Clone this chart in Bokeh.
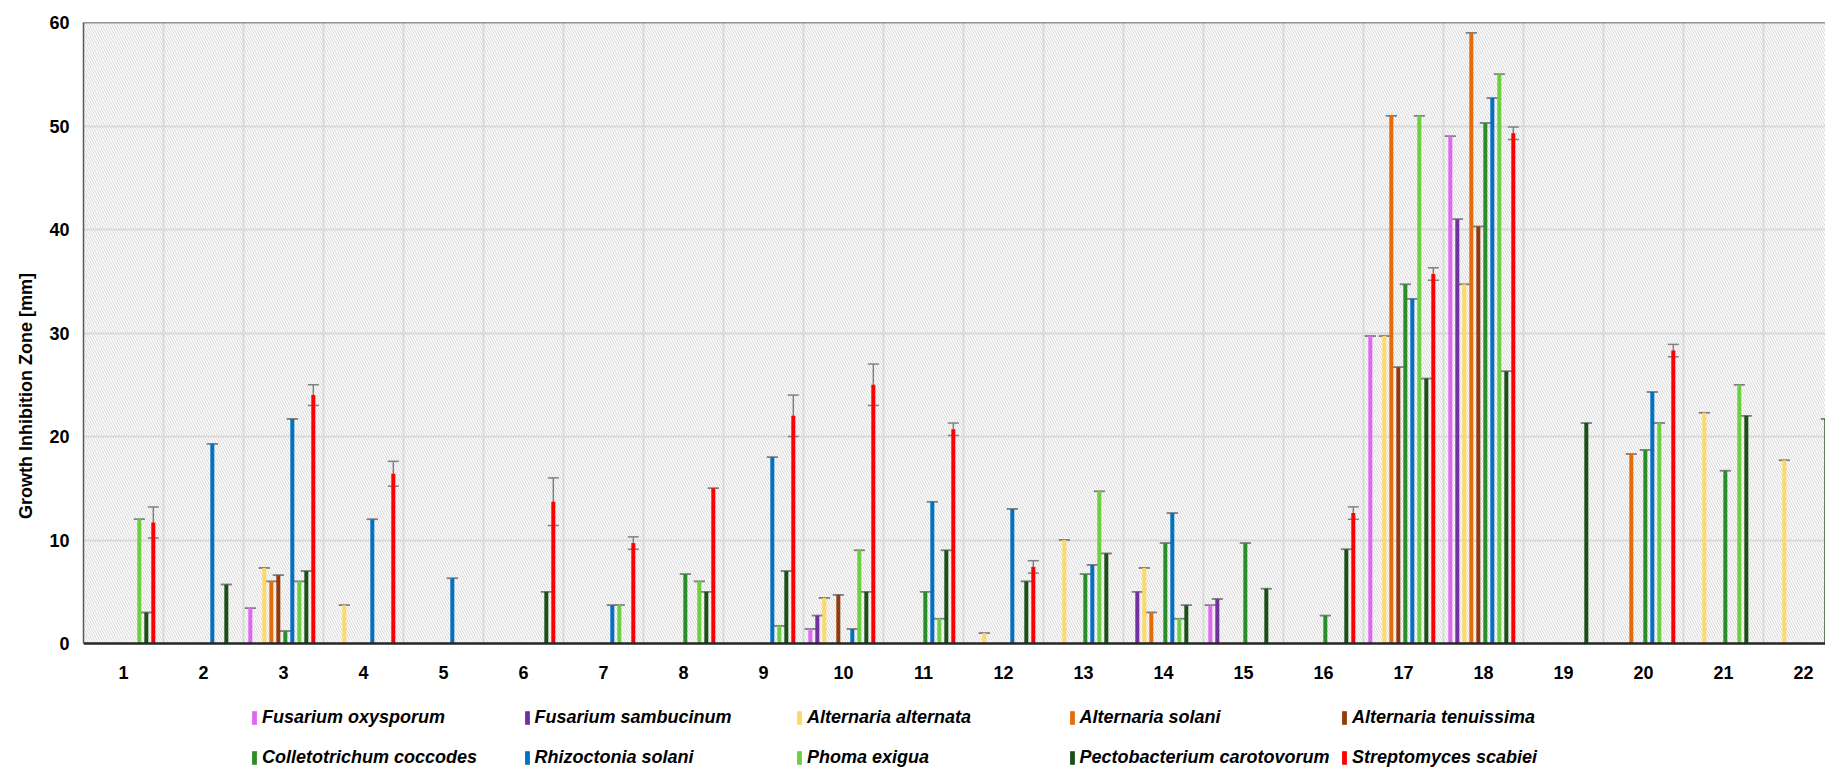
from bokeh.plotting import figure
from bokeh.models import (ColumnDataSource, FixedTicker, Whisker, TeeHead, BoxAnnotation,
                          Span, Legend, LegendItem, Range1d, Grid)
from bokeh.core.properties import value
from bokeh.embed import file_html
from bokeh.resources import INLINE

categories = ["1", "2", "3", "4", "5", "6", "7", "8", "9", "10", "11",
              "12", "13", "14", "15", "16", "17", "18", "19", "20", "21", "22"]

series_names = ["Fusarium oxysporum", "Fusarium sambucinum", "Alternaria alternata",
                "Alternaria solani", "Alternaria tenuissima", "Colletotrichum coccodes",
                "Rhizoctonia solani", "Phoma exigua", "Pectobacterium carotovorum",
                "Streptomyces scabiei"]
series_colors = ["#E066F5", "#7030A0", "#FFD966", "#E46C0A", "#953A0A",
                 "#2B8C2B", "#0070C0", "#6CCF3F", "#1A4F1A", "#FF0000"]

fusarium_oxysporum = [0, 0, 3.4, 0, 0, 0, 0, 0, 0, 1.4, 0, 0, 0, 0, 3.7, 0, 29.7, 49.0, 0, 0, 0, 0]
fusarium_sambucinum = [0, 0, 0, 0, 0, 0, 0, 0, 0, 2.7, 0, 0, 0, 5.0, 4.3, 0, 0, 41.0, 0, 0, 0, 0]
alternaria_alternata = [0, 0, 7.3, 3.7, 0, 0, 0, 0, 0, 4.4, 0, 1.0, 10.0, 7.3, 0, 0, 29.7, 34.7, 0, 0, 22.3, 17.7]
alternaria_solani = [0, 0, 6.0, 0, 0, 0, 0, 0, 0, 0, 0, 0, 0, 3.0, 0, 0, 51.0, 59.0, 0, 18.3, 0, 0]
alternaria_tenuissima = [0, 0, 6.6, 0, 0, 0, 0, 0, 0, 4.7, 0, 0, 0, 0, 0, 0, 26.7, 40.3, 0, 0, 0, 0]
colletotrichum_coccodes = [0, 0, 1.2, 0, 0, 0, 0, 6.7, 0, 0, 5.0, 0, 6.7, 9.7, 9.7, 2.7, 34.7, 50.3, 0, 18.7, 16.7, 0]
rhizoctonia_solani = [0, 19.3, 21.7, 12.0, 6.3, 0, 3.7, 0, 18.0, 1.4, 13.7, 13.0, 7.6, 12.6, 0, 0, 33.3, 52.7, 0, 24.3, 0, 0]
phoma_exigua = [12.0, 0, 6.0, 0, 0, 0, 3.7, 6.0, 1.7, 9.0, 2.4, 0, 14.7, 2.4, 0, 0, 51.0, 55.0, 0, 21.3, 25.0, 0]
pectobacterium_carotovorum = [3.0, 5.7, 7.0, 0, 0, 5.0, 0, 5.0, 7.0, 5.0, 9.0, 6.0, 8.7, 3.7, 5.3, 9.1, 25.6, 26.3, 21.3, 0, 22.0, 21.7]
streptomyces_scabiei = [11.7, 0, 24.0, 16.4, 0, 13.7, 9.7, 15.0, 22.0, 25.0, 20.7, 7.4, 0, 0, 0, 12.6, 35.7, 49.3, 0, 28.3, 0, 0]
streptomyces_sd = [1.5, 0, 1.0, 1.2, 0, 2.3, 0.6, 0, 2.0, 2.0, 0.6, 0.6, 0, 0, 0, 0.6, 0.6, 0.6, 0, 0.6, 0, 0]

series_values = [fusarium_oxysporum, fusarium_sambucinum, alternaria_alternata, alternaria_solani,
                 alternaria_tenuissima, colletotrichum_coccodes, rhizoctonia_solani, phoma_exigua,
                 pectobacterium_carotovorum, streptomyces_scabiei]
zero_sd = [0] * len(categories)
series_sd = [zero_sd] * 9 + [streptomyces_sd]

y_ticks = [0, 10, 20, 30, 40, 50, 60]

FONT = "Liberation Sans"

# layout (pixels)
W, H = 1825, 769
FRAME_LEFT, FRAME_TOP, ZERO_Y = 83, 22, 643
px_per_unit = (ZERO_Y - FRAME_TOP) / 60.0
y_start = -(H - ZERO_Y) / px_per_unit
x_start = 0.5
x_end = x_start + (W - FRAME_LEFT) / 80.0

p = figure(width=W, height=H, output_backend="svg", toolbar_location=None,
           x_axis_location=None,
           x_range=Range1d(x_start, x_end), y_range=Range1d(y_start, 60),
           min_border_left=FRAME_LEFT, min_border_right=0, min_border_top=FRAME_TOP,
           min_border_bottom=0)
p.outline_line_color = None
p.background_fill_color = "white"
p.border_fill_color = "white"

# hatched plot area
hatch = BoxAnnotation(bottom=0, fill_alpha=0, line_alpha=0, hatch_pattern="\\",
                      hatch_color="#d0d0d0", hatch_scale=5, hatch_weight=0.9, level="image")
p.add_layout(hatch)

# grid
if len(p.xgrid) == 0:
    p.add_layout(Grid(dimension=0))
p.xgrid.ticker = FixedTicker(ticks=[c + 1.5 for c in range(len(categories))])
p.ygrid.ticker = FixedTicker(ticks=y_ticks[1:-1])
for g in list(p.xgrid) + list(p.ygrid):
    g.grid_line_color = "#d9d9d9"
    g.grid_line_width = 2

# white mask below zero (legend / label area)
mask = BoxAnnotation(top=0, fill_color="white", fill_alpha=1, line_alpha=0, level="underlay")
p.add_layout(mask)

# y axis
ax = p.yaxis[0]
ax.bounds = (0, 60)
ax.ticker = FixedTicker(ticks=y_ticks)
ax.major_tick_line_color = None
ax.minor_tick_line_color = None
ax.major_tick_out = 0
ax.major_tick_in = 0
ax.major_label_text_font = FONT
ax.major_label_text_font_style = "bold"
ax.major_label_text_font_size = "18px"
ax.major_label_text_color = "black"
ax.major_label_standoff = 14
ax.axis_line_color = "#595959"
ax.axis_line_width = 1.5
ax.axis_label = "Growth Inhibition Zone [mm]"
ax.axis_label_text_font = FONT
ax.axis_label_text_font_style = "bold"
ax.axis_label_text_font_size = "18px"
ax.axis_label_text_color = "black"
ax.axis_label_standoff = 10

# baseline and top border
p.add_layout(Span(location=0, dimension="width", line_color="#262626", line_width=2.5))
p.add_layout(Span(location=60, dimension="width", line_color="#333333", line_width=1.5))

# category labels under the baseline
label_src = ColumnDataSource(dict(x=[i + 1 for i in range(len(categories))], y=[0] * len(categories),
                                  text=categories))
p.text(x="x", y="y", text="text", source=label_src, y_offset=29, text_align="center",
       text_baseline="middle", text_font=value(FONT), text_font_style="bold",
       text_font_size="18px", text_color="black")

bar_w = 0.05
step = 0.0875
n = len(series_names)
renderers = []
for i, (name, color, vals, sds) in enumerate(zip(series_names, series_colors, series_values, series_sd)):
    off = (i - (n - 1) / 2) * step - 0.021
    xs, tops, up, lo = [], [], [], []
    for j, v in enumerate(vals):
        if v > 0:
            xs.append(j + 1 + off)
            tops.append(v)
            up.append(v + sds[j])
            lo.append(v - sds[j])
    src = ColumnDataSource(dict(x=xs, top=tops, upper=up, lower=lo))
    r = p.vbar(x="x", top="top", width=bar_w, bottom=0, source=src,
               fill_color=color, line_color=None)
    renderers.append(r)
    w = Whisker(base="x", upper="upper", lower="lower", source=src,
                line_color="#808080", line_width=1.5,
                upper_head=TeeHead(size=11, line_color="#808080", line_width=1.5),
                lower_head=TeeHead(size=11, line_color="#808080", line_width=1.5))
    p.add_layout(w)

# legend: 5 columns x 2 rows
col_pitch = 272.5
for c in range(5):
    items = [LegendItem(label=series_names[c], renderers=[renderers[c]]),
             LegendItem(label=series_names[c + 5], renderers=[renderers[c + 5]])]
    leg = Legend(items=items, orientation="vertical", location=(168 + c * col_pitch, 1),
                 glyph_width=6, glyph_height=17, label_height=17, spacing=19,
                 padding=0, margin=0, border_line_alpha=0, background_fill_alpha=0,
                 label_standoff=5, label_text_font=FONT, label_text_font_style="bold italic",
                 label_text_font_size="18px", label_text_color="black")
    p.add_layout(leg)

open("out.html", "w").write(file_html(p, INLINE))
